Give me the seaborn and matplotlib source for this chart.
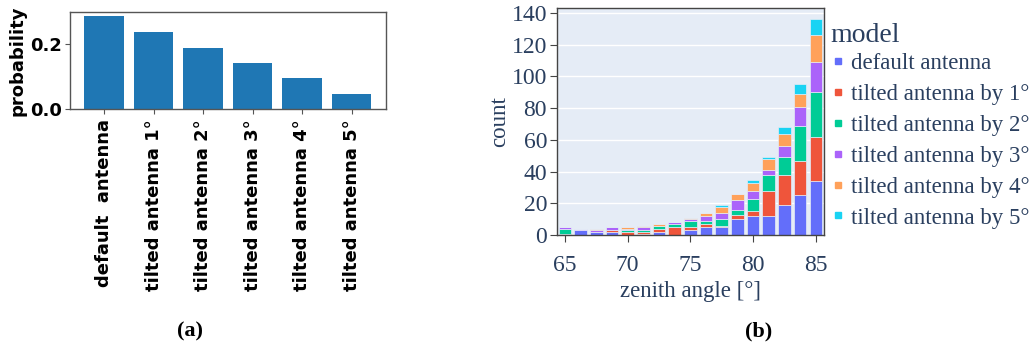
"""Antenna tilt comparison: (a) model probability, (b) zenith angle histogram."""
import matplotlib

matplotlib.use("Agg")
import matplotlib.pyplot as plt
import matplotlib.lines as mlines
import pandas as pd
import seaborn as sns

# --- data -------------------------------------------------------------------
models = [
    "default antenna",
    "tilted antenna by 1°",
    "tilted antenna by 2°",
    "tilted antenna by 3°",
    "tilted antenna by 4°",
    "tilted antenna by 5°",
]
prob_labels = [
    "default  antenna",
    "tilted antenna 1°",
    "tilted antenna 2°",
    "tilted antenna 3°",
    "tilted antenna 4°",
    "tilted antenna 5°",
]
probability = [0.286, 0.238, 0.190, 0.143, 0.095, 0.048]

# histogram bin centres (deg) and stacked counts per model
bin_centers = [65.0, 66.25, 67.5, 68.75, 70.0, 71.25, 72.5, 73.75, 75.0,
               76.25, 77.5, 78.75, 80.0, 81.25, 82.5, 83.75, 85.0]
bin_width = 1.25
counts_default = [0, 3, 2, 2, 0, 1, 2, 0, 3, 5, 5, 10, 12, 12, 19, 25, 34]
counts_tilt1 = [1, 0, 0, 1, 2, 1, 2, 5, 2, 2, 1, 3, 3, 16, 19, 22, 28]
counts_tilt2 = [3, 0, 0, 0, 1, 1, 2, 2, 4, 2, 4, 3, 8, 10, 11, 22, 28]
counts_tilt3 = [1, 1, 1, 2, 1, 2, 0, 1, 1, 3, 4, 6, 5, 3, 7, 12, 19]
counts_tilt4 = [0, 0, 1, 0, 1, 1, 1, 0, 1, 2, 4, 4, 5, 7, 8, 8, 17]
counts_tilt5 = [0, 0, 0, 0, 0, 0, 0, 0, 0, 0, 1, 0, 2, 1, 4, 6, 10]

plotly_colors = ["#636EFA", "#EF553B", "#00CC96", "#AB63FA", "#FFA15A", "#19D3F3"]
ink = "#2a3f5f"
serif = ["Liberation Serif", "DejaVu Serif"]

hist_df = pd.concat(
    [
        pd.DataFrame({"angle": bin_centers, "count": c, "model": m})
        for m, c in zip(models, [counts_default, counts_tilt1, counts_tilt2,
                                 counts_tilt3, counts_tilt4, counts_tilt5])
    ],
    ignore_index=True,
)
prob_df = pd.DataFrame({"model": prob_labels, "probability": probability})

# --- figure -----------------------------------------------------------------
fig = plt.figure(figsize=(10.35, 3.51), dpi=100)

# (a) probability bars
ax1 = fig.add_axes([0.0676, 0.689, 0.305, 0.277])
sns.barplot(data=prob_df, x="model", y="probability", color="#1f77b4",
            saturation=1, width=0.8, ax=ax1)
ax1.set_xlim(-0.69, 5.69)
ax1.set_ylim(0, 0.3)
ax1.set_yticks([0.0, 0.2])
ax1.set_yticklabels(["0.0", "0.2"])
ax1.set_xlabel("")
ax1.set_ylabel("probability", fontsize=13, fontweight="bold", labelpad=3)
ax1.tick_params(axis="x", labelrotation=90, labelsize=13, length=3.5, color="#555555")
ax1.tick_params(axis="y", labelsize=13, length=3.5, color="#555555", pad=2)
for lab in ax1.get_xticklabels() + ax1.get_yticklabels():
    lab.set_fontweight("bold")
for sp in ax1.spines.values():
    sp.set_color("#555555")
    sp.set_linewidth(1.0)

# (b) stacked zenith-angle histogram
ax2 = fig.add_axes([0.538, 0.33, 0.258, 0.647])
ax2.set_facecolor("#E5ECF6")
sns.histplot(data=hist_df, x="angle", weights="count", hue="model",
             hue_order=models[::-1], palette=dict(zip(models, plotly_colors)),
             multiple="stack", binwidth=bin_width,
             binrange=(bin_centers[0] - bin_width / 2, bin_centers[-1] + bin_width / 2),
             shrink=0.8, alpha=1, edgecolor="#E5ECF6", linewidth=0.5,
             legend=False, ax=ax2)
ax2.set_xlim(64.36, 85.64)
ax2.set_ylim(0, 143)
ax2.set_xticks([65, 70, 75, 80, 85])
ax2.set_yticks(range(0, 141, 20))
ax2.grid(axis="y", color="white", linewidth=1)
ax2.set_axisbelow(True)
for sp in ax2.spines.values():
    sp.set_color("#444444")
    sp.set_linewidth(1.0)
ax2.tick_params(axis="both", labelsize=17, labelcolor=ink, color="#444444", length=5)
ax2.tick_params(axis="x", pad=9)
ax2.tick_params(axis="y", pad=2)
for lab in ax2.get_xticklabels() + ax2.get_yticklabels():
    lab.set_family(serif)
ax2.set_xlabel("zenith angle [°]", fontsize=16.5, color=ink, family=serif, labelpad=4)
ax2.set_ylabel("count", fontsize=16.5, color=ink, family=serif, labelpad=1)

# plotly-like legend: title as plain text, entries below it
fig.text(830 / 1035, 1 - 35 / 351, "model", fontsize=20, color=ink,
         family=serif, ha="left", va="center")
handles = [mlines.Line2D([], [], linestyle="none", marker="s", markersize=4,
                         color=c) for c in plotly_colors]
leg = ax2.legend(handles, models, loc="upper left",
                 bbox_to_anchor=(832 / 1035, 1 - 53 / 351),
                 bbox_transform=fig.transFigure, frameon=False,
                 prop={"family": serif, "size": 16.5}, handlelength=0.5,
                 handletextpad=0.35, labelspacing=0.43, borderaxespad=0,
                 borderpad=0)
for t in leg.get_texts():
    t.set_color(ink)

fig.text(0.184, 0.057, "(a)", fontsize=16, fontweight="bold", family=serif,
         ha="center", va="center")
fig.text(0.733, 0.057, "(b)", fontsize=16, fontweight="bold", family=serif,
         ha="center", va="center")

fig.savefig("out.png", dpi=100)
